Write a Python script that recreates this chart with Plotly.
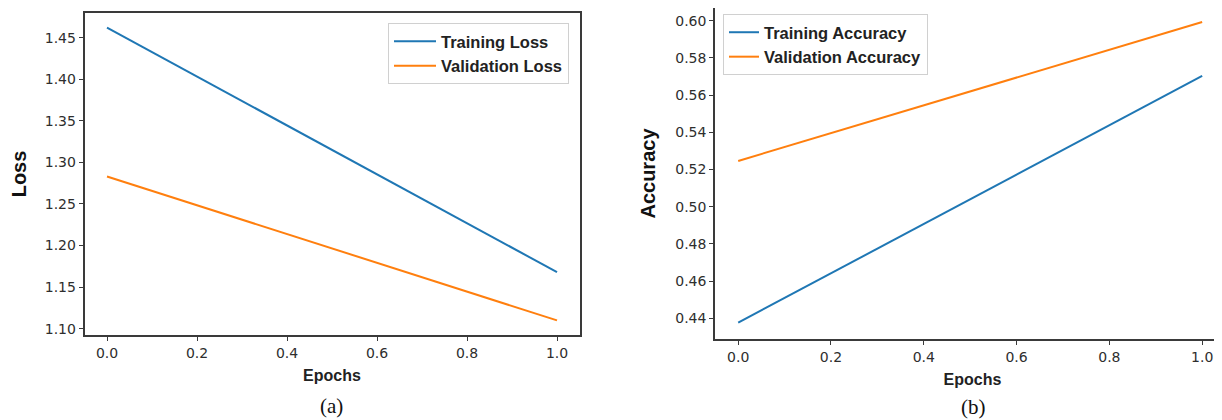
import plotly.graph_objects as go

# ---- data ----
epochs = [0.0, 1.0]
train_loss = [1.462, 1.168]
val_loss = [1.283, 1.110]
train_acc = [0.4377, 0.5703]
val_acc = [0.5246, 0.5993]
loss_ticks = [1.10, 1.15, 1.20, 1.25, 1.30, 1.35, 1.40, 1.45]
acc_ticks = [0.44, 0.46, 0.48, 0.50, 0.52, 0.54, 0.56, 0.58, 0.60]
epoch_ticks = [0.0, 0.2, 0.4, 0.6, 0.8, 1.0]

BLUE = "#1f77b4"
ORANGE = "#ff7f0e"
FRAME = "#3a3a3a"
W, H = 1222, 420
OFF = 8  # page body margin offset


def px(x):
    return min(1.0, max(0.0, (x - OFF) / W))


def py(y):
    return min(1.0, max(0.0, 1 - (y - OFF) / H))


def padded(a, b, m=0.05):
    lo = min(min(a), min(b))
    hi = max(max(a), max(b))
    s = hi - lo
    return [lo - m * s, hi + m * s]


fig = go.Figure()
fig.add_trace(go.Scatter(x=epochs, y=train_loss, mode="lines", name="Training Loss",
                         line=dict(color=BLUE, width=2), xaxis="x", yaxis="y", legend="legend"))
fig.add_trace(go.Scatter(x=epochs, y=val_loss, mode="lines", name="Validation Loss",
                         line=dict(color=ORANGE, width=2), xaxis="x", yaxis="y", legend="legend"))
fig.add_trace(go.Scatter(x=epochs, y=train_acc, mode="lines", name="Training Accuracy",
                         line=dict(color=BLUE, width=2), xaxis="x2", yaxis="y2", legend="legend2"))
fig.add_trace(go.Scatter(x=epochs, y=val_acc, mode="lines", name="Validation Accuracy",
                         line=dict(color=ORANGE, width=2), xaxis="x2", yaxis="y2", legend="legend2"))

tickfont = dict(family="DejaVu Sans", size=14, color="#2e2e2e")
titlefont_y = dict(family="Liberation Sans", size=20, color="#111111", weight="bold")
titlefont_x = dict(family="Liberation Sans", size=16, color="#222222", weight="bold")

common_x = dict(showgrid=False, zeroline=False, showline=True, linecolor=FRAME, linewidth=1.5,
                ticks="outside", ticklen=4, tickwidth=1, tickcolor=FRAME, tickfont=tickfont,
                tickvals=epoch_ticks, tickformat=".1f", automargin=False)
common_y = dict(showgrid=False, zeroline=False, showline=True, linecolor=FRAME, linewidth=1.5,
                ticks="outside", ticklen=4, tickwidth=1, tickcolor=FRAME, tickfont=tickfont,
                tickformat=".2f", automargin=False)

legend_font = dict(family="Liberation Sans", size=16.5, color="#222222", weight="bold")

fig.update_layout(
    width=W, height=H,
    margin=dict(l=0, r=0, t=0, b=0, autoexpand=False),
    paper_bgcolor="white", plot_bgcolor="white",
    xaxis=dict(common_x, domain=[px(84.5), px(579.5)], range=[-0.05, 1.05], mirror=True,
               anchor="y",
               title=dict(text="Epochs", font=titlefont_x, standoff=10)),
    yaxis=dict(common_y, domain=[py(335), py(13)], range=padded(train_loss, val_loss),
               tickvals=loss_ticks, mirror=True, anchor="x",
               title=dict(text="Loss", font=titlefont_y, standoff=14)),
    xaxis2=dict(common_x, domain=[px(715), 1.0], range=[-0.05, 1.06], mirror=True,
                anchor="y2",
                title=dict(text="Epochs", font=titlefont_x, standoff=10)),
    yaxis2=dict(common_y, domain=[py(339), py(8)], range=[0.4289, 0.6068],
                tickvals=acc_ticks, mirror=False, anchor="x2",
                title=dict(text="Accuracy", font=titlefont_y, standoff=14)),
    legend=dict(x=px(569), y=py(23), xanchor="right", yanchor="top",
                bgcolor="white", bordercolor="#d0d0d0", borderwidth=1,
                font=legend_font, itemwidth=42, tracegroupgap=0),
    legend2=dict(x=px(723), y=py(14), xanchor="left", yanchor="top",
                 bgcolor="white", bordercolor="#d0d0d0", borderwidth=1,
                 font=legend_font, itemwidth=30, tracegroupgap=0),
    annotations=[
        dict(text="(a)", x=px(331), y=py(406), xref="paper", yref="paper",
             xanchor="center", yanchor="middle",
             showarrow=False, font=dict(family="Liberation Serif", size=21, color="#111111")),
        dict(text="(b)", x=px(973), y=py(407), xref="paper", yref="paper",
             xanchor="center", yanchor="middle",
             showarrow=False, font=dict(family="Liberation Serif", size=21, color="#111111")),
    ],
)

fig.write_html("out.html")
